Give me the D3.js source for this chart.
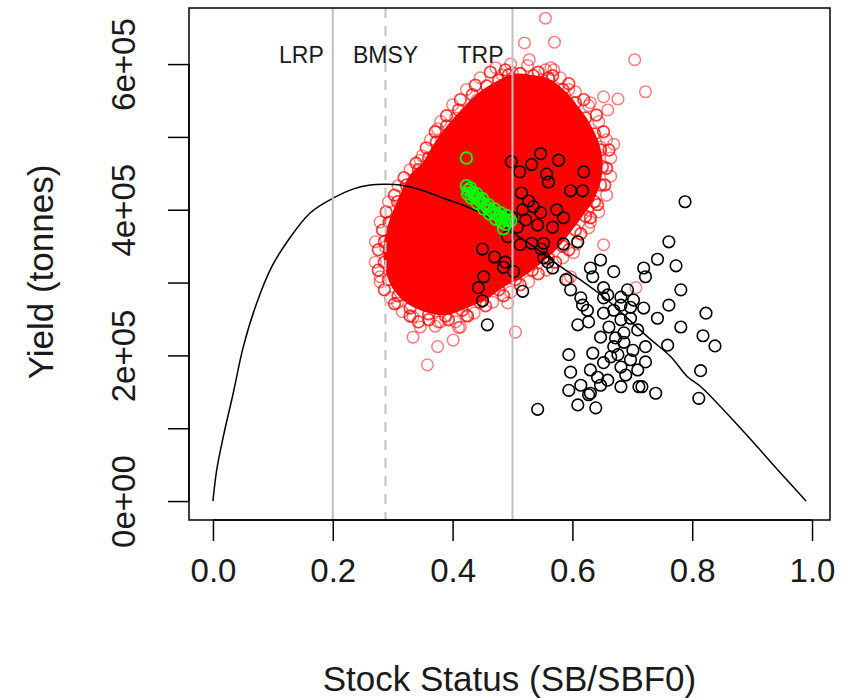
<!DOCTYPE html>
<html>
<head>
<meta charset="utf-8">
<script src="https://cdn.jsdelivr.net/npm/d3@7/dist/d3.min.js"></script>
<style>
  html, body { margin: 0; padding: 0; background: #fff; }
  svg { display: block; font-family: "Liberation Sans", Arial, sans-serif; }
</style>
</head>
<body>
<svg id="chart" width="856" height="698"></svg>
<script>
// ---------------- DATA ----------------
// x = stock status (SB/SBF0), y = yield in units of 1e5 tonnes
const xTicks = [0, 0.2, 0.4, 0.6, 0.8, 1.0];
const xTickLabels = ["0.0", "0.2", "0.4", "0.6", "0.8", "1.0"];
const yTicks = [0, 1e5, 2e5, 3e5, 4e5, 5e5, 6e5];
const yTickLabels = ["0e+00", "", "2e+05", "", "4e+05", "", "6e+05"];
const xTitle = "Stock Status (SB/SBF0)";
const yTitle = "Yield (tonnes)";

const refNames = ["LRP", "BMSY", "TRP"];
const refValues = [0.2, 0.288, 0.5];

// Equilibrium yield curve
const curve = [
  [0,0],[0.0062,0.426],[0.0172,0.883],[0.0339,1.484],[0.0507,2.12],[0.0731,2.72],
  [0.0982,3.218],[0.1259,3.585],[0.1622,3.956],[0.2012,4.162],[0.2346,4.286],
  [0.2625,4.341],[0.2876,4.35],[0.3127,4.341],[0.3433,4.282],[0.3851,4.158],
  [0.4298,4.021],[0.4744,3.837],[0.5022,3.677],[0.5356,3.493],[0.5803,3.218],
  [0.6137,3.036],[0.6584,2.761],[0.7252,2.257],[0.7642,1.982],[0.7921,1.707],
  [0.8144,1.57],[0.8757,1.044],[0.9482,0.38],[0.99,0]
];

// Dense core of the projected (red) cloud
const redCore = [
  [0.485,5.69],[0.505,5.76],[0.530,5.74],[0.555,5.70],[0.580,5.54],[0.600,5.34],
  [0.617,5.14],[0.630,4.92],[0.637,4.68],[0.635,4.44],[0.625,4.20],[0.610,4.02],
  [0.592,3.82],[0.567,3.56],[0.538,3.34],[0.510,3.17],[0.480,3.04],[0.450,2.87],
  [0.421,2.76],[0.385,2.66],[0.355,2.71],[0.329,2.82],[0.309,3.01],[0.299,3.28],
  [0.299,3.56],[0.309,3.86],[0.323,4.13],[0.339,4.41],[0.360,4.57],[0.376,4.79],
  [0.396,5.03],[0.421,5.27],[0.450,5.51]
];

// Projection points crowding the edge of the core
const redEdgePoints = [
  [0.477,5.78],[0.493,5.85],[0.513,5.87],[0.535,5.84],[0.560,5.81],[0.584,5.65],
  [0.605,5.47],[0.622,5.26],[0.637,5.04],[0.647,4.82],[0.650,4.59],[0.647,4.34],
  [0.637,4.11],[0.622,3.91],[0.605,3.72],[0.584,3.50],[0.560,3.34],[0.533,3.17],
  [0.505,3.04],[0.477,2.90],[0.446,2.73],[0.416,2.62],[0.388,2.54],[0.360,2.57],
  [0.329,2.65],[0.309,2.82],[0.293,3.04],[0.286,3.28],[0.286,3.56],[0.294,3.83],
  [0.308,4.11],[0.323,4.34],[0.343,4.55],[0.360,4.71],[0.373,4.93],[0.390,5.15],
  [0.410,5.37],[0.433,5.58],[0.457,5.70],
  [0.463,5.89],[0.488,5.92],[0.543,5.89],[0.567,5.84],[0.594,5.73],[0.619,5.51],
  [0.640,5.30],[0.652,5.07],[0.661,4.82],[0.657,4.57],[0.654,4.34],[0.642,4.07],
  [0.630,3.89],[0.614,3.67],[0.594,3.45],[0.572,3.28],[0.543,3.12],[0.513,2.97],
  [0.485,2.82],[0.455,2.68],[0.425,2.54],[0.393,2.49],[0.360,2.49],[0.329,2.54],
  [0.303,2.71],[0.286,2.90],[0.276,3.17],[0.276,3.45],[0.283,3.72],[0.289,3.97],
  [0.303,4.20],[0.319,4.44],[0.339,4.64],[0.356,4.85],[0.371,5.07],[0.390,5.29],
  [0.413,5.51],[0.438,5.71]
];

// Scattered projection points further out
const redPoints = [
  [0.472,5.95],[0.497,6.00],[0.525,5.98],[0.555,5.92],[0.580,5.81],[0.605,5.62],
  [0.627,5.43],[0.644,5.21],[0.657,4.96],[0.664,4.71],[0.664,4.46],[0.657,4.20],
  [0.644,3.97],[0.627,3.75],[0.607,3.53],[0.584,3.34],[0.557,3.17],[0.527,3.01],
  [0.497,2.87],[0.467,2.73],[0.436,2.58],[0.405,2.46],[0.371,2.40],[0.343,2.46],
  [0.316,2.60],[0.296,2.79],[0.279,3.01],[0.271,3.28],[0.271,3.56],[0.279,3.83],
  [0.293,4.11],[0.309,4.33],[0.329,4.55],[0.349,4.74],[0.363,4.96],[0.380,5.21],
  [0.400,5.44],[0.423,5.65],[0.446,5.81],
  [0.555,6.63],[0.520,6.29],[0.570,6.30],[0.528,6.06],[0.704,6.06],[0.564,5.95],
  [0.569,5.92],[0.722,5.62],[0.676,5.52],[0.652,5.55],[0.659,5.37],[0.630,5.47],
  [0.594,5.65],[0.669,4.90],[0.647,4.86],[0.405,5.26],[0.375,5.11],[0.346,4.68],
  [0.441,5.51],[0.483,5.85],[0.500,5.88],[0.550,5.78],[0.518,5.78],
  [0.288,3.49],[0.279,3.08],[0.313,4.04],[0.296,3.82],[0.308,2.72],[0.334,2.53],
  [0.346,2.39],[0.334,2.25],[0.375,2.12],[0.358,1.87],[0.413,2.39],[0.401,2.21],
  [0.380,2.46],[0.505,2.32],[0.492,2.72],[0.592,3.04],[0.602,3.41],[0.652,3.52],
  [0.630,3.83],[0.625,4.00],[0.609,4.09],[0.706,2.93],[0.597,3.08],[0.423,2.55],
  [0.343,2.46],[0.376,2.46],[0.410,2.38]
];

// Historical (black) points
const blackPoints = [
  [0.498,4.66],[0.512,4.52],[0.532,4.62],[0.547,4.77],[0.577,4.68],[0.557,4.49],
  [0.560,4.38],[0.619,4.52],[0.597,4.26],[0.617,4.26],[0.515,4.23],[0.527,4.12],
  [0.535,4.04],[0.517,4.00],[0.547,3.96],[0.574,4.00],[0.585,3.89],[0.567,3.76],
  [0.542,3.79],[0.522,3.86],[0.498,3.90],[0.508,3.76],[0.492,3.63],[0.513,3.52],
  [0.532,3.54],[0.548,3.46],[0.585,3.53],[0.609,3.56],[0.450,3.46],[0.470,3.35],
  [0.488,3.28],[0.485,3.21],[0.502,3.15],[0.559,3.28],[0.567,3.20],[0.552,3.34],
  [0.452,3.08],[0.443,2.93],[0.450,2.75],[0.517,2.88],[0.458,2.42],[0.552,3.54],
  [0.788,4.11],[0.761,3.56],[0.742,3.32],[0.773,3.23],[0.719,3.20],[0.722,3.08],
  [0.781,2.90],[0.761,2.69],[0.742,2.51],[0.719,2.65],[0.823,2.58],[0.818,2.27],
  [0.838,2.13],[0.781,2.39],[0.759,2.14],[0.814,1.79],[0.811,1.41],[0.739,1.48],
  [0.722,2.12],[0.722,1.91],[0.716,1.57],[0.647,3.31],[0.630,3.20],[0.634,3.08],
  [0.669,3.15],[0.652,2.93],[0.659,2.83],[0.614,2.79],[0.617,2.69],[0.681,2.69],
  [0.697,2.66],[0.625,2.62],[0.609,2.42],[0.627,2.46],[0.594,2.01],[0.634,2.03],
  [0.647,2.25],[0.652,2.79],[0.652,2.58],[0.669,2.62],[0.681,2.49],[0.697,2.51],
  [0.661,2.39],[0.686,2.31],[0.709,2.35],[0.669,2.12],[0.676,2.01],[0.697,1.94],
  [0.681,1.84],[0.652,1.90],[0.630,1.80],[0.642,1.70],[0.659,1.66],[0.709,1.80],
  [0.681,1.57],[0.711,1.57],[0.630,1.48],[0.594,1.52],[0.609,1.32],[0.639,1.28],
  [0.542,1.26],[0.686,2.18],[0.672,2.24],[0.701,2.07],[0.664,1.98],[0.689,1.73],
  [0.647,1.59],[0.627,1.46],[0.614,1.59],[0.597,1.77],[0.597,2.90],[0.589,3.04],
  [0.681,2.80],[0.692,2.90],[0.702,2.76]
];

// Recent (green) points
const greenPoints = [
  [0.423,4.33],[0.426,4.27],[0.425,4.22],[0.430,4.30],[0.433,4.24],[0.436,4.19],
  [0.431,4.16],[0.440,4.22],[0.443,4.16],[0.446,4.12],[0.441,4.09],[0.450,4.15],
  [0.453,4.08],[0.457,4.04],[0.452,4.01],[0.460,4.07],[0.463,4.00],[0.467,3.97],
  [0.462,3.94],[0.470,4.01],[0.473,3.94],[0.477,3.91],[0.472,3.87],[0.480,3.96],
  [0.483,3.89],[0.487,3.86],[0.482,3.83],[0.490,3.92],[0.493,3.86],[0.488,3.80],
  [0.497,3.85],[0.423,4.71],[0.485,3.74]
];

// ---------------- LAYOUT ----------------
const box = { left: 189, right: 830, top: 8, bottom: 520 };
const FONT = 33;
const TITLE_FONT = 35;
const R = 5.8;

const svg = d3.select("#chart");
const x = d3.scaleLinear().domain([-0.04, 1.03]).range([box.left, box.right]);
const y = d3.scaleLinear().domain([-0.26e5, 6.77e5]).range([box.bottom, box.top]);
const px = d => x(d[0]);
const py = d => y(d[1] * 1e5);

const plot = svg.append("g");
plot.append("clipPath").attr("id", "clip").append("rect")
  .attr("x", box.left).attr("y", box.top)
  .attr("width", box.right - box.left).attr("height", box.bottom - box.top);
const g = plot.append("g").attr("clip-path", "url(#clip)");

// red projection cloud
g.append("path").datum(redCore)
  .attr("d", d3.line().x(px).y(py).curve(d3.curveCatmullRomClosed.alpha(0.5)))
  .attr("fill", "#ff0000").attr("stroke", "#ff0000").attr("stroke-width", 16)
  .attr("stroke-linejoin", "round");

g.append("g").selectAll("circle").data(redPoints).join("circle")
  .attr("cx", px).attr("cy", py).attr("r", R)
  .attr("fill", "none").attr("stroke", "rgba(255,0,0,0.5)").attr("stroke-width", 1.5);

g.append("g").selectAll("circle").data(redEdgePoints).join("circle")
  .attr("cx", px).attr("cy", py).attr("r", R)
  .attr("fill", "none").attr("stroke", "rgba(255,0,0,0.75)").attr("stroke-width", 1.8);

g.append("g").selectAll("circle").data(blackPoints).join("circle")
  .attr("cx", px).attr("cy", py).attr("r", R)
  .attr("fill", "none").attr("stroke", "#000").attr("stroke-width", 1.6);

g.append("path").datum(curve)
  .attr("d", d3.line().x(px).y(py).curve(d3.curveCatmullRom.alpha(0.5)))
  .attr("fill", "none").attr("stroke", "#000").attr("stroke-width", 1.5);

g.append("g").selectAll("circle").data(greenPoints).join("circle")
  .attr("cx", px).attr("cy", py).attr("r", R)
  .attr("fill", "none").attr("stroke", "#00ff00").attr("stroke-width", 1.8);

// reference lines
g.append("g").selectAll("line").data(refValues).join("line")
  .attr("x1", d => x(d)).attr("x2", d => x(d))
  .attr("y1", box.top).attr("y2", box.bottom)
  .attr("stroke", "#c0c0c0").attr("stroke-width", 2)
  .attr("stroke-dasharray", (d, i) => i === 1 ? "10,8" : null);

svg.append("g").selectAll("text").data(refNames).join("text")
  .attr("x", (d, i) => i === 1 ? x(refValues[i]) : x(refValues[i]) - 9)
  .attr("y", 63)
  .attr("text-anchor", (d, i) => i === 1 ? "middle" : "end")
  .attr("font-size", 23).attr("fill", "#1a1a1a")
  .text(d => d);

// box
svg.append("rect")
  .attr("x", box.left).attr("y", box.top)
  .attr("width", box.right - box.left).attr("height", box.bottom - box.top)
  .attr("fill", "none").attr("stroke", "#000").attr("stroke-width", 1.5);

// axes
const xAxis = d3.axisBottom(x).tickValues(xTicks).tickSize(21).tickPadding(18)
  .tickFormat((d, i) => xTickLabels[i]);
const gx = svg.append("g").attr("transform", `translate(0,${box.bottom})`).call(xAxis);
gx.select(".domain").attr("d", `M${x(xTicks[0])},0H${x(xTicks[xTicks.length-1])}`)
  .attr("stroke-width", 1.5);
gx.selectAll(".tick line").attr("stroke-width", 1.5);
gx.selectAll(".tick text").attr("font-size", FONT).attr("font-family", "Liberation Sans, Arial, sans-serif").attr("fill", "#1a1a1a");

const yAxis = d3.axisLeft(y).tickValues(yTicks).tickSize(21)
  .tickFormat((d, i) => yTickLabels[i]);
const gy = svg.append("g").attr("transform", `translate(${box.left},0)`).call(yAxis);
gy.select(".domain").attr("d", `M0,${y(yTicks[0])}V${y(yTicks[yTicks.length-1])}`)
  .attr("stroke-width", 1.5);
gy.selectAll(".tick line").attr("stroke-width", 1.5);
gy.selectAll(".tick text")
  .attr("font-size", FONT).attr("font-family", "Liberation Sans, Arial, sans-serif").attr("fill", "#1a1a1a")
  .attr("x", null).attr("dy", null)
  .attr("text-anchor", "middle")
  .attr("transform", "translate(-54,0) rotate(-90)")
  .attr("y", 0);

// titles
svg.append("text").attr("x", (box.left + box.right) / 2 + 0).attr("y", 691)
  .attr("text-anchor", "middle").attr("font-size", TITLE_FONT).attr("fill", "#1a1a1a")
  .text(xTitle);
svg.append("text")
  .attr("transform", `translate(53,${(box.top + box.bottom) / 2 + 8}) rotate(-90)`)
  .attr("text-anchor", "middle").attr("font-size", TITLE_FONT).attr("fill", "#1a1a1a")
  .text(yTitle);
</script>
</body>
</html>
